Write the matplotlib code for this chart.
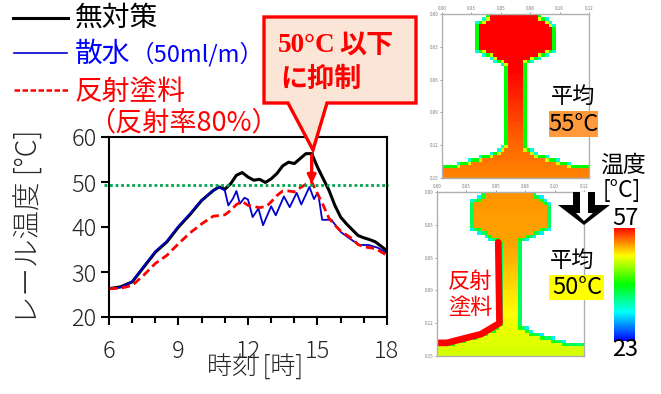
import numpy as np
import matplotlib
matplotlib.use("Agg")
import matplotlib.pyplot as plt
from matplotlib.colors import LinearSegmentedColormap
from matplotlib.path import Path
from matplotlib.patches import Polygon, Rectangle

plt.rcParams['font.family'] = ['Noto Sans CJK JP', 'DejaVu Sans']

# === Dados do grafico ===
t_black = [6, 6.5, 7, 7.5, 8, 8.5, 9, 9.5, 10, 10.5, 10.75, 11, 11.25, 11.5, 11.75, 12, 12.25, 12.5, 12.75,
           13, 13.25, 13.5, 13.75, 14, 14.25, 14.5, 14.75, 15, 15.25, 15.5, 15.75, 16, 16.25, 16.5, 16.75,
           17, 17.25, 17.5, 17.75, 18]
v_black = [26.3, 26.7, 27.8, 31.1, 34.4, 36.7, 40, 42.8, 45.9, 48.1, 48.9, 48.4, 49.6, 51.5, 52.1, 51.1, 50.4, 50.6, 49.9,
           50.7, 51.9, 53.6, 54.4, 54.1, 55.2, 56.3, 56.3, 53.3, 50.7, 48.1, 44.8, 42.2, 40.7, 39.4, 38.1,
           37.6, 37.2, 36.7, 35.7, 34.7]
t_blue = [6, 6.5, 7, 7.5, 8, 8.5, 9, 9.5, 10, 10.5, 10.75, 11, 11.15, 11.35, 11.5, 11.65, 11.85, 12, 12.2, 12.45, 12.65,
          13, 13.2, 13.55, 13.8, 14.1, 14.3, 14.65, 14.85, 15, 15.05, 15.2, 15.6, 16, 16.4, 16.8, 17.2, 17.6, 18]
v_blue = [26.3, 26.6, 27.9, 31.3, 34.6, 36.9, 40.2, 43, 46, 48.1, 48.9, 48.1, 44.8, 46.3, 48, 45.2, 46.5, 46.1, 42.2, 44.1, 40.4,
          44.6, 42.6, 46.8, 44.4, 47.6, 45, 48.9, 46.2, 47.6, 46.8, 41.6, 41.6, 38.9, 37.4, 36, 36, 35.4, 34.2]
t_red = [6, 6.5, 7, 7.5, 8, 8.5, 9, 9.5, 10, 10.5, 11, 11.25, 11.5, 11.75, 12, 12.5, 12.8, 13, 13.25, 13.5, 13.75,
         14, 14.25, 14.5, 14.75, 15, 15.25, 15.5, 15.75, 16, 16.5, 16.75, 17, 17.5, 18]
v_red = [26.3, 26.4, 27, 29.3, 31.9, 33.7, 36.3, 38.7, 40.7, 42.4, 42.7, 43.7, 45, 45.7, 44.8, 44.3, 44.6, 45.6, 47, 48, 48,
         47.8, 48.7, 49.5, 50, 47.4, 44.8, 41.9, 40.4, 39.1, 37.4, 36.1, 35.6, 35.2, 33.7]
limite = 49.4

# perfil do trilho (x, profundidade em m)
rail_x = [0.000, 0.000, 0.012, 0.039, 0.050, 0.050, 0.039, 0.027, 0.027, 0.033, 0.039,
          0.079, 0.086, 0.092, 0.092, 0.079, 0.068, 0.068, 0.079, 0.107, 0.120, 0.120]
rail_y = [0.150, 0.138, 0.137, 0.128, 0.120, 0.048, 0.041, 0.035, 0.009, 0.003, 0.000,
          0.000, 0.003, 0.009, 0.035, 0.041, 0.048, 0.120, 0.128, 0.137, 0.138, 0.150]
depth = [0.0, 0.05, 0.09, 0.12, 0.15]
temp_top = [57, 57, 55, 53.5, 52.5]
temp_bottom = [52, 51.5, 49.5, 48, 47]

# tinta refletiva no trilho de baixo
paint_x = [0.050, 0.051, 0.036, 0.008, 0.000]
paint_y = [0.046, 0.120, 0.130, 0.138, 0.138]

W, H = 661, 394
fig = plt.figure(figsize=(W / 100, H / 100), dpi=100)

def px_axes(x0, y0, x1, y1):
    return fig.add_axes([x0 / W, 1 - y1 / H, (x1 - x0) / W, (y1 - y0) / H])

# === Grafico principal ===
ax = px_axes(109, 137, 387, 317)
ax.plot(t_black, v_black, color='black', lw=2.2)
ax.plot(t_blue, v_blue, color='#0000cc', lw=1.3)
ax.plot(t_red, v_red, color='red', lw=2.0, dashes=(3, 1.6))
ax.plot([5.8, 18.05], [limite, limite], color='#00a550', lw=2, ls=(0, (1, 1)), clip_on=False)
ax.annotate('', xy=(14.75, 49.6), xytext=(14.75, 56),
            arrowprops=dict(arrowstyle='-|>', color='red', lw=2.4, mutation_scale=12, shrinkA=0, shrinkB=0))
ax.set_xlim(6, 18)
ax.set_ylim(20, 60)
ax.set_xticks([6, 9, 12, 15, 18])
ax.set_xticks(range(6, 19), minor=True)
ax.set_yticks([20, 30, 40, 50, 60])
ax.tick_params(axis='both', which='major', length=6, width=1.5, labelsize=17, labelcolor='#262626', pad=3)
ax.tick_params(axis='x', which='major', pad=10)
ax.tick_params(axis='x', which='minor', length=4, width=1.5)
for lab in ax.get_xticklabels() + ax.get_yticklabels():
    lab.set_fontweight('light')
for s in ax.spines.values():
    s.set_linewidth(1.5)

# === Trilhos ===
cmap = LinearSegmentedColormap.from_list('temp', ['#0000ff', '#00ffff', '#00ff00', '#ffff00', '#ff0000'])
cell = 0.003
xc = (np.arange(40) + 0.5) * cell
yc = (np.arange(50) + 0.5) * cell
gx, gy = np.meshgrid(xc, yc)
mask = Path(np.column_stack([rail_x, rail_y])).contains_points(np.column_stack([gx.ravel(), gy.ravel()])).reshape(gx.shape)
pad = np.pad(mask, 1, mode='edge')
n4 = pad[:-2, 1:-1] & pad[2:, 1:-1] & pad[1:-1, :-2] & pad[1:-1, 2:]
diag = pad[:-2, :-2] & pad[:-2, 2:] & pad[2:, :-2] & pad[2:, 2:]
n_side = (pad[:-2, 1:-1].astype(int) + pad[2:, 1:-1] + pad[1:-1, :-2] + pad[1:-1, 2:])

def rail_axes(box, temps, edge_t, corner_t, inner_t):
    a = px_axes(*box)
    z = np.interp(gy, depth, temps)
    z[mask & n4 & ~diag] = inner_t
    z[mask & ~n4] = edge_t
    z[mask & (n_side <= 2)] = corner_t
    a.imshow(np.ma.masked_where(~mask, z), cmap=cmap, vmin=23, vmax=57, extent=[0, 0.12, 0.15, 0],
             aspect='auto', interpolation='nearest')
    a.set_xticks(np.linspace(0, 0.12, 6))
    a.set_xticklabels(['0.00', '0.03', '0.05', '0.08', '0.10', '0.12'])
    a.set_yticks(np.linspace(0, 0.15, 6))
    a.set_yticklabels(['0.00', '0.03', '0.06', '0.09', '0.12', '0.15'])
    a.xaxis.tick_top()
    a.tick_params(length=1.5, width=0.5, labelsize=3.2, pad=1, colors='#777777')
    for s in a.spines.values():
        s.set_color('#b0b0b0')
        s.set_linewidth(1)
    return a

rail_axes((442, 14, 589, 178), temp_top, 40, 33, 47)
low = rail_axes((437, 192, 584, 356), temp_bottom, 37, 31, 41)
low.plot(paint_x, paint_y, color='#ff0000', lw=4.8, solid_capstyle='round', solid_joinstyle='round', clip_on=True)

# barra de cores
cb = px_axes(614, 228, 635, 341)
cb.imshow(np.linspace(57, 23, 256).reshape(-1, 1), cmap=cmap, vmin=23, vmax=57, aspect='auto')
cb.axis('off')

# === Textos e chamada em coordenadas de pixel ===
ov = fig.add_axes([0, 0, 1, 1], facecolor='none')
ov.set_xlim(0, W)
ov.set_ylim(H, 0)
ov.axis('off')

ov.plot([13, 68], [18, 18], color='black', lw=2.2)
ov.plot([14, 67], [53, 53], color='#0000cc', lw=1.2)
ov.plot([14, 68], [90, 90], color='red', lw=1.8, dashes=(2.2, 1))
ov.text(75, 18, '無対策', fontsize=20, color='black', va='center')
ov.text(75, 54, '散水', fontsize=20, color='#0000ff', va='center')
ov.text(131, 54, '（50ml/m）', fontsize=17, color='#0000ff', va='center')
ov.text(75, 92, '反射塗料', fontsize=20, color='red', va='center')
ov.text(88, 123, '（反射率80%）', fontsize=19.5, color='red', va='center')

ov.add_patch(Polygon([(264, 17), (416, 17), (416, 103), (327, 103), (313, 150), (288, 103), (264, 103)],
                     closed=True, facecolor='#fbe5d6', edgecolor='red', lw=2.4))
ov.text(278, 45, '50°C', fontsize=19.5, color='red', weight='bold', family='Liberation Serif', va='center')
ov.text(339, 45, '以下', fontsize=19.5, color='red', weight='bold', va='center')
ov.text(280, 79, 'に抑制', fontsize=19.5, color='red', weight='bold', va='center')

ov.text(29, 227, 'レール温度 [°C]', fontsize=20.5, color='#262626', rotation=90, ha='center', va='center', weight='light')
ov.text(255, 368, '時刻 [時]', fontsize=18, color='#262626', ha='center', va='center', weight='light')

ov.text(573, 96, '平均', fontsize=16, color='black', ha='center', va='center')
ov.add_patch(Rectangle((549, 111), 49, 26, facecolor='#ff9a3c', edgecolor='none'))
ov.text(573, 124, '55°C', fontsize=17, color='black', ha='center', va='center')
ov.text(623, 165, '温度', fontsize=16.5, color='black', ha='center', va='center')
ov.text(622, 190, '[°C]', fontsize=16.5, color='black', ha='center', va='center')

ov.add_patch(Polygon([(573, 192), (595, 192), (595, 205), (610, 205), (584, 225), (558, 205), (573, 205)],
                     closed=True, facecolor='black', edgecolor='none'))
ov.add_patch(Polygon([(580, 192), (588, 192), (588, 213), (593, 213), (584, 221), (576, 213), (580, 213)],
                     closed=True, facecolor='white', edgecolor='none'))

ov.text(625, 218, '57', fontsize=17, color='black', ha='center', va='center')
ov.text(625, 350, '23', fontsize=17, color='black', ha='center', va='center')
ov.text(572, 260, '平均', fontsize=16, color='black', ha='center', va='center')
ov.add_patch(Rectangle((549, 275), 55, 25, facecolor='#ffff00', edgecolor='none'))
ov.text(577, 287, '50°C', fontsize=17, color='black', ha='center', va='center')
ov.text(470, 282, '反射', fontsize=16, color='red', ha='center', va='center')
ov.text(470, 308, '塗料', fontsize=16, color='red', ha='center', va='center')

fig.savefig('out.png', dpi=100)
